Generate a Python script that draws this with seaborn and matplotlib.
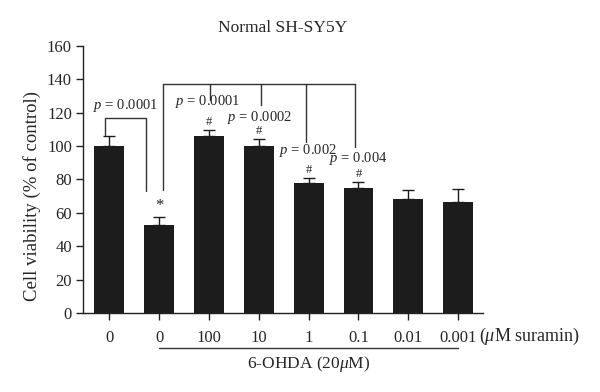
import numpy as np
import pandas as pd
import matplotlib
matplotlib.use('Agg')
import matplotlib.pyplot as plt
import matplotlib.transforms as mtransforms
import seaborn as sns

# data
groups = ['ctrl', 'ohda', 's100', 's10', 's1', 's0.1', 's0.01', 's0.001']
tick_labels = ['0', '0', '100', '10', '1', '0.1', '0.01', '0.001']
viability = [100.0, 52.7, 105.8, 100.2, 77.7, 74.7, 68.3, 66.6]
sem = [5.8, 4.6, 3.8, 3.8, 2.9, 3.6, 5.4, 7.7]
marks = ['', '*', '#', '#', '#', '#', '', '']
p_values = ['0.0001', '0.0001', '0.0002', '0.002', '0.004']

df = pd.DataFrame({'group': groups, 'viability': viability})

sns.set_style('ticks')
plt.rcParams['font.family'] = ['Liberation Serif', 'DejaVu Serif']
plt.rcParams['mathtext.fontset'] = 'custom'
plt.rcParams['mathtext.rm'] = 'Liberation Serif'
plt.rcParams['mathtext.it'] = 'Liberation Serif:italic'

fig = plt.figure(figsize=(6, 3.92), dpi=100)
ax = fig.add_axes([0.1383, 0.2015, 0.6667, 0.6812])

bar_col = '#1c1c1c'
line_col = '#333333'
sns.barplot(data=df, x='group', y='viability', order=groups, color=bar_col,
            saturation=1, width=0.6, errorbar=None, linewidth=0, ax=ax)
x = np.arange(len(groups))
ax.errorbar(x, viability, yerr=[np.zeros(len(sem)), sem], fmt='none',
            ecolor=bar_col, elinewidth=1, capsize=4, capthick=1)

ax.set_ylim(0, 160)
ax.set_xlim(-0.53, 7.5)
ax.set_yticks(range(0, 161, 20))
ax.set_xticks(x)
ax.set_xticklabels(tick_labels)
ax.tick_params(labelsize=12, length=5, width=1, color='#222222', pad=7)
ax.tick_params(axis='y', pad=3)
for s in ['left', 'bottom']:
    ax.spines[s].set_linewidth(1)
    ax.spines[s].set_color('#222222')
sns.despine(ax=ax)
ax.set_xlabel('')
ax.set_ylabel('Cell viability (% of control)', fontsize=13.5)
ax.yaxis.set_label_coords(-0.105, 0.44)
ax.set_title('Normal SH-SY5Y', fontsize=12.5, pad=10)

# significance marks
for i, m in enumerate(marks):
    if m:
        off = 7 if m == '*' else 5
        ax.text(i, viability[i] + sem[i] + off, m, ha='center', va='center',
                fontsize=12 if m == '*' else 9)

lw = 1
# bracket control vs 6-OHDA
ax.plot([-0.08, -0.08, 0.73, 0.73], [106.5, 117, 117, 73], color=line_col, lw=lw)
# bracket 6-OHDA vs suramin doses
ax.plot([1.07, 1.07], [74, 137], color=line_col, lw=lw)
ax.plot([1.07, 4.94], [137, 137], color=line_col, lw=lw)
for xd, yd in zip([2.01, 3.05, 3.95, 4.94], [127.5, 124.5, 102.6, 99.6]):
    ax.plot([xd, xd], [137, yd], color=line_col, lw=lw)

p_pos = [(0.32, 119.5), (1.98, 121.5), (3.02, 112.3), (3.98, 92.5), (5.0, 87.5)]
for (px, py), pv in zip(p_pos, p_values):
    ax.text(px, py, '$p$ = ' + pv, ha='center', va='bottom', fontsize=10.5)

# x-axis annotations
trans = mtransforms.blended_transform_factory(ax.transData, ax.transAxes)
ax.plot([1, 7], [-0.131, -0.131], color=line_col, lw=1, transform=trans, clip_on=False)
ax.text(4, -0.19, '6-OHDA (20$\\mu$M)', ha='center', va='center', fontsize=12.5,
        transform=trans)
fig.text(479 / 600, 1 - 336 / 392, '($\\mu$M suramin)', ha='left', va='center',
         fontsize=13)

fig.savefig('out.png', dpi=100, facecolor='white')
